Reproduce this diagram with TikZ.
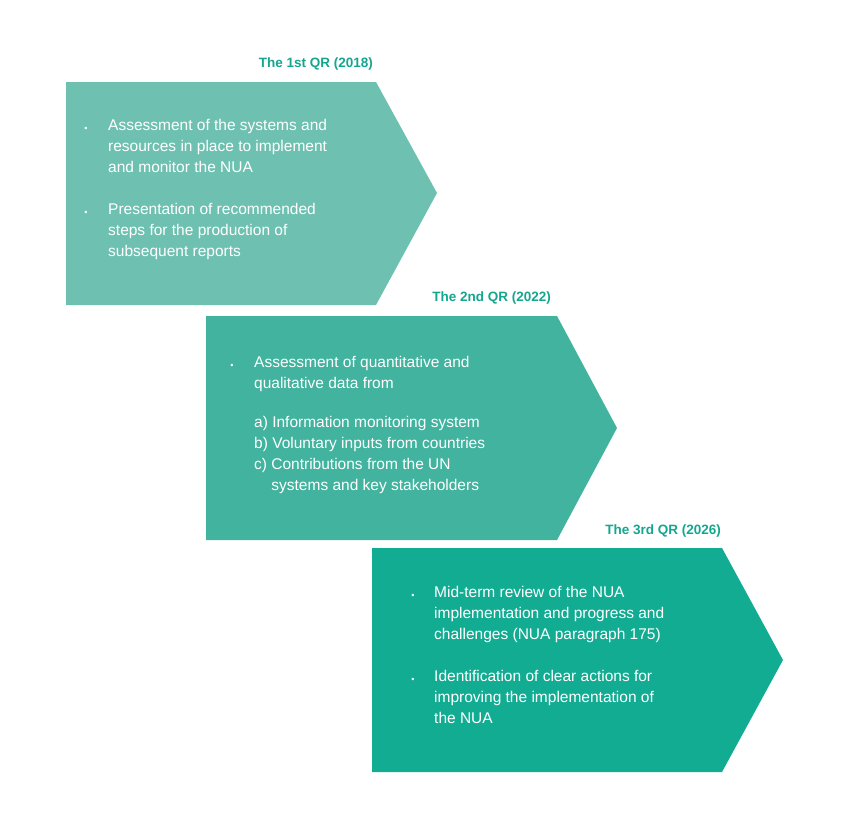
\documentclass[tikz,border=0pt]{standalone}
\usepackage{fontspec}
\setmainfont{Liberation Sans}
\definecolor{cA}{HTML}{6EC1B1}
\definecolor{cB}{HTML}{41B39E}
\definecolor{cC}{HTML}{12AC93}
\definecolor{ttl}{HTML}{14A68E}
\begin{document}
\begin{tikzpicture}[x=1pt,y=-1pt,
  ttlstyle/.style={anchor=east,text=ttl,font=\bfseries\fontsize{13.5}{16}\selectfont,inner sep=0},
  body/.style={anchor=north west,text=white,align=left,font=\fontsize{15.5}{21}\selectfont,inner sep=0},
  bul/.style={anchor=center,text=white,font=\fontsize{9}{10}\selectfont,inner sep=0}]
\useasboundingbox[fill=white] (0,0) rectangle (851,838);
\fill[cA] (66,82) -- (376,82) -- (437,193) -- (376,305) -- (66,305) -- cycle;
\fill[cB] (206,316) -- (557,316) -- (617,428) -- (557,540) -- (206,540) -- cycle;
\fill[cC] (372,548) -- (722,548) -- (783,660) -- (722,772) -- (372,772) -- cycle;
\node[ttlstyle] (t1) at (373,64) {The 1st QR (2018)};
\node[ttlstyle] (t2) at (551,298) {The 2nd QR (2022)};
\node[ttlstyle] (t3) at (721,531) {The 3rd QR (2026)};
\node[bul] (b1) at (86,129) {•};
\node[body] (x1) at (108,119) {Assessment of the systems and\\resources in place to implement\\and monitor the NUA};
\node[bul] (b2) at (86,213) {•};
\node[body] (x2) at (108,203) {Presentation of recommended\\steps for the production of\\subsequent reports};
\node[bul] (b3) at (232,366) {•};
\node[body] (x3) at (254,356) {Assessment of quantitative and\\qualitative data from};
\node[body] (x4) at (254,416) {a) Information monitoring system\\b) Voluntary inputs from countries\\c) Contributions from the UN\\\phantom{c) }systems and key stakeholders};
\node[bul] (b4) at (413,596) {•};
\node[body] (x5) at (434,586) {Mid-term review of the NUA\\implementation and progress and\\challenges (NUA paragraph 175)};
\node[bul] (b5) at (413,680) {•};
\node[body] (x6) at (434,670) {Identification of clear actions for\\improving the implementation of\\the NUA};
\end{tikzpicture}
\end{document}
